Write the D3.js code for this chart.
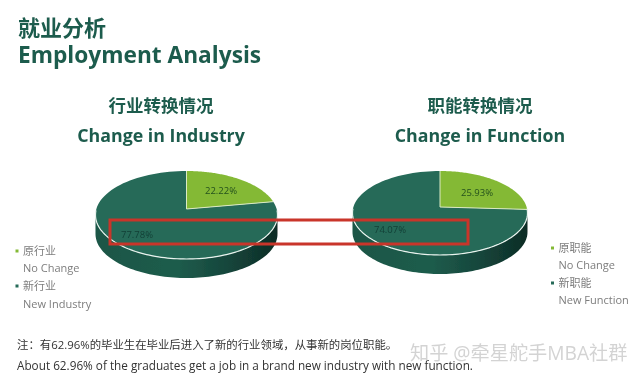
<!DOCTYPE html>
<html><head><meta charset="utf-8">
<script src="https://cdn.jsdelivr.net/npm/d3@7"></script>
<style>html,body{margin:0;padding:0;background:#fff}svg{display:block}text{font-family:"Open Sans","Noto Sans CJK SC",sans-serif}</style>
</head><body><svg id="c" width="640" height="380"></svg>
<script>
const industryValues = [22.22, 77.78];
const functionValues = [25.93, 74.07];
const industryLabels = ["原行业", "No Change", "新行业", "New Industry"];
const functionLabels = ["原职能", "No Change", "新职能", "New Function"];
const sliceColors = ["#84b936", "#256a58"];

const svg = d3.select("#c");
const defs = svg.append("defs");
const grad = defs.append("linearGradient").attr("id", "side");
[[0,"#1a5646"],[0.45,"#1f5c4c"],[0.75,"#14443a"],[1,"#0e2c25"]].forEach(([o,c]) =>
  grad.append("stop").attr("offset", o).attr("stop-color", c));
defs.append("filter").attr("id", "soft").append("feGaussianBlur").attr("stdDeviation", 0.35);

const root = svg.append("g").attr("filter", "url(#soft)");
const textCol = "#1f5c4d";
function txt(x, y, s, size, o = {}) {
  return root.append("text").attr("x", x).attr("y", y).text(s).attr("font-size", size)
    .attr("font-weight", o.weight || 400).attr("fill", o.fill || textCol)
    .attr("text-anchor", o.anchor || "start");
}
txt(18, 36, "就业分析", 22, {weight: 700});
txt(18, 63, "Employment Analysis", 22.7, {weight: 700});

function pie3d(values, g) {
  const {cx, cy, rx, ry, a, depth} = g;
  const arcs = d3.pie().sort(null)(values);
  // project a pie angle onto the tilted disc, keeping the perspective shift of the centre
  const proj = t => {
    const u = Math.sin(t), v = -Math.cos(t), d = 1 + a * v;
    return [cx + rx * u * Math.sqrt(1 - a * a) / d, cy + ry * (v + a) / d];
  };
  const apex = [cx, cy + ry * a];
  const line = d3.line();
  const rim = (t0, t1) => d3.range(0, 1.0001, 1 / 90).map(k => proj(t0 + (t1 - t0) * k));
  // side wall: lower half of the outline, moved down by the disc thickness
  const front = d3.range(0, 180.01, 2).map(k => {
    const r = k * Math.PI / 180;
    return [cx + rx * Math.cos(r), cy + ry * Math.sin(r)];
  });
  const wall = front.concat(front.slice().reverse().map(p => [p[0], p[1] + depth]));
  root.append("path").attr("d", line(wall) + "Z").attr("fill", "url(#side)");
  // top face
  arcs.slice().reverse().forEach(s => {
    root.append("path").attr("d", line([apex, ...rim(s.startAngle, s.endAngle)]) + "Z")
      .attr("fill", sliceColors[s.index]);
  });
  // pale separators on the light slice
  const s0 = arcs[0];
  root.append("path").attr("d", line([proj(s0.startAngle), apex, proj(s0.endAngle)]))
    .attr("fill", "none").attr("stroke", "#dbeac4").attr("stroke-width", 1);
  // white highlight along the front rim
  const hl = d3.range(-6, 186.01, 2).map(k => {
    const r = k * Math.PI / 180;
    return [cx + rx * Math.cos(r), cy + ry * Math.sin(r)];
  });
  root.append("path").attr("d", line(hl)).attr("fill", "none")
    .attr("stroke", "#e9f3ee").attr("stroke-width", 1.2);
  // labels
  arcs.forEach((s, i) => {
    txt(g.lab[i][0], g.lab[i][1], values[i].toFixed(2) + "%", 9.5, {anchor: "middle", fill: i ? "#143f36" : "#23501c"});
  });
}
pie3d(industryValues, {cx: 186.5, cy: 215, rx: 91, ry: 44, a: -6 / 44, depth: 19, lab: [[221, 194], [137, 238]]});
pie3d(functionValues, {cx: 440, cy: 213, rx: 87.5, ry: 42, a: -6 / 42, depth: 19, lab: [[477, 196], [390, 233]]});

// section headings
txt(161, 112, "行业转换情况", 17.5, {weight: 700, anchor: "middle"});
txt(161, 142, "Change in Industry", 17.8, {weight: 700, anchor: "middle"});
txt(480, 112, "职能转换情况", 17.5, {weight: 700, anchor: "middle"});
txt(480, 142, "Change in Function", 17.8, {weight: 700, anchor: "middle"});

// highlight box
root.append("rect").attr("x", 110).attr("y", 220).attr("width", 358).attr("height", 24)
  .attr("fill", "none").attr("stroke", "#c9352b").attr("stroke-width", 3);

// legends
function legend(labels, x, ys) {
  labels.forEach((s, i) => {
    txt(x, ys[i] + 4, s, 11, {fill: "#7d7d7d"});
    if (i % 2 === 0) root.append("rect").attr("x", x - 7.5).attr("y", ys[i] - 1.5)
      .attr("width", 3).attr("height", 3).attr("fill", sliceColors[i / 2]);
  });
}
legend(industryLabels, 23, [251, 268, 286, 304]);
legend(functionLabels, 558.5, [248, 265, 283, 300]);

// note
txt(17, 349, "注：有62.96%的毕业生在毕业后进入了新的行业领域，从事新的岗位职能。", 11.4, {fill: "#333"});
txt(17, 370, "About 62.96% of the graduates get a job in a brand new industry with new function.", 11.75, {fill: "#333"});
// watermark
txt(410, 360, "知乎 @牵星舵手MBA社群", 19.2, {fill: "#c9c9c9"}).attr("opacity", 0.8);
</script></body></html>
